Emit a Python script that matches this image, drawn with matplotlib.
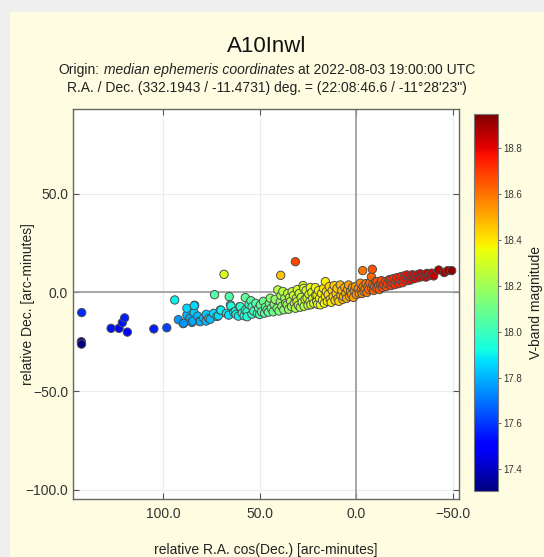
import matplotlib
matplotlib.use("Agg")
import matplotlib.pyplot as plt
from matplotlib.patches import Rectangle

plt.rcParams['font.family'] = ['Liberation Sans', 'DejaVu Sans']

# relative R.A. cos(Dec.) offsets [arc-minutes]
ra_off = [
    142.0, 142.2, 142.1, 126.8, 122.7, 121.0, 119.8, 118.4, 104.7, 98.0,
    93.9, 92.0, 89.5, 89.3, 87.6, 87.6, 86.0, 85.0, 84.5, 83.9,
    83.6, 83.8, 82.0, 81.0, 80.7, 79.0, 77.7, 77.6, 76.4, 75.5,
    73.8, 73.3, 72.0, 71.4, 70.3, 70.0, 68.4, 67.2, 66.0, 65.7,
    65.1, 64.8, 63.4, 62.6, 62.2, 61.0, 60.3, 60.0,
    59.0, 58.0, 57.4, 57.4, 56.5, 56.5, 55.5, 54.5, 54.0, 53.9,
    53.0, 52.0, 51.2, 50.5, 50.0, 49.6, 49.0, 48.0, 47.5, 47.0,
    46.2, 45.5, 45.0, 44.5, 44.0, 43.0, 42.5, 42.0, 41.0, 40.6,
    40.0, 39.3, 39.1, 39.0, 38.5, 38.0, 37.5, 37.0, 36.5, 35.8,
    35.5, 35.0, 34.5, 34.0, 33.5, 33.2, 32.5, 32.0, 31.5, 31.5,
    31.0, 30.7, 30.5, 30.0,
    29.5, 29.0, 28.5, 28.0, 27.5, 27.2, 27.0, 26.5, 26.0, 25.5,
    25.0, 24.5, 24.0, 23.8, 23.5, 23.0, 22.5, 22.0, 21.2, 21.0,
    20.5, 20.3, 20.0, 19.5, 19.0, 18.6, 18.0, 17.5, 17.0, 16.5,
    16.0, 16.0, 15.5, 15.0, 14.5, 14.0, 13.5, 13.0, 12.5, 12.0,
    11.5, 11.0, 10.5, 10.0, 9.5, 9.0, 8.3, 8.0, 7.5, 7.0,
    6.6, 6.0, 5.5, 5.0, 4.5, 4.0, 3.5, 3.0, 2.5, 2.0,
    1.5, 1.0, 0.5, 0.0,
    -1.0, -1.5, -2.1, -2.5, -3.0, -3.3, -3.5, -4.0, -4.5, -5.0,
    -5.5, -6.0, -6.5, -7.0, -7.8, -8.0, -8.3, -8.5, -9.0, -9.5,
    -10.0, -10.7, -10.7, -11.5, -12.0, -12.5, -13.0, -13.5, -14.0, -15.0,
    -15.5, -16.0, -17.0, -17.6, -18.0, -18.5, -19.0, -20.0, -20.5, -21.0,
    -22.0, -22.5, -23.0, -24.0, -24.5, -25.0, -26.2, -26.5, -27.0, -27.9,
    -28.5, -29.0, -30.0, -30.5, -31.4, -32.0, -33.0, -34.0, -35.0, -36.0,
    -36.6, -37.5, -38.3, -39.0, -40.0, -42.6, -45.5, -47.3, -49.3,
]

# relative Dec. offsets [arc-minutes]
dec_off = [
    -10.2, -25.0, -26.2, -18.2, -18.2, -15.3, -12.9, -20.1, -18.5, -17.9,
    -3.8, -13.8, -15.8, -15.6, -11.4, -8.0, -13.0, -15.2, -14.5, -10.2,
    -6.5, -6.7, -12.0, -14.6, -14.8, -13.0, -14.5, -11.1, -13.1, -13.6,
    -10.6, -1.1, -12.2, -11.8, -8.9, -9.0, 9.2, -10.6, -11.5, -2.1,
    -6.3, -6.9, -10.0, -9.7, -11.1, -12.0, -7.2, -7.2,
    -10.5, -11.8, -2.6, -9.0, -9.7, -12.3, -6.0, -4.2, -11.0, -7.2,
    -9.5, -5.5, -10.6, -8.0, -11.2, -6.3, -9.8, -4.5, -10.5, -7.5,
    -8.9, -10.0, -5.5, -2.9, -8.0, -9.8, -6.0, -3.5, -8.0, 1.3,
    -9.4, -4.7, 8.7, -1.5, -7.0, 0.5, -8.8, -3.0, -5.5, -6.3,
    -0.5, -8.5, -2.5, -4.5, -7.2, 0.4, -1.5, -5.5, 15.6, -8.0,
    -3.0, -4.7, 1.5, -6.5,
    -0.5, -7.5, -2.5, -5.0, 3.5, 2.1, -7.0, -3.5, 1.0, -2.9,
    -6.5, -1.0, -4.5, 2.5, -6.2, 0.0, -3.0, -5.5, 2.5, -1.5,
    -4.5, -1.3, -6.0, 1.0, -3.0, -6.3, -0.5, -4.0, 2.0, -5.5,
    5.5, -2.0, 0.5, -4.5, -1.0, 3.0, -3.5, -5.0, 1.0, -2.0,
    3.5, -4.0, -0.5, 2.0, -3.0, -4.5, 3.8, -1.5, 1.0, -3.5,
    -2.1, 2.5, -0.5, -3.0, 1.5, 3.8, -2.0, 0.5, -1.0, 2.5,
    -2.5, 1.0, 3.0, -1.0,
    2.0, -0.5, 4.7, 1.0, -0.5, 11.1, 3.0, 0.5, 2.0, 4.5,
    0.0, 3.0, 1.5, 5.0, 8.0, 2.0, 11.8, 4.0, 1.0, 3.0,
    5.5, 2.1, 5.5, 3.5, 1.5, 4.5, 6.0, 2.5, 4.0, 5.5,
    3.0, 4.5, 6.5, 6.3, 3.5, 5.0, 7.0, 4.0, 6.0, 7.5,
    4.5, 6.5, 8.0, 5.0, 7.0, 8.5, 8.9, 6.0, 7.5, 6.3,
    8.0, 9.0, 7.0, 8.5, 8.9, 7.5, 9.5, 8.0, 9.0, 7.8,
    9.7, 8.5, 8.9, 9.8, 8.4, 11.4, 10.1, 11.1, 11.1,
]

# V-band magnitude
vmag = [
    17.58, 17.32, 17.31, 17.54, 17.52, 17.54, 17.56, 17.50, 17.56, 17.62,
    17.90, 17.76, 17.74, 17.76, 17.80, 17.86, 17.78, 17.76, 17.79, 17.84,
    17.88, 17.86, 17.81, 17.79, 17.80, 17.82, 17.81, 17.84, 17.83, 17.82,
    17.86, 18.05, 17.85, 17.87, 17.89, 17.90, 18.32, 17.88, 17.87, 18.04,
    17.93, 17.93, 17.91, 17.93, 17.91, 17.90, 17.96, 17.97,
    17.95, 17.93, 18.07, 17.97, 17.98, 17.95, 18.00, 18.05, 17.98, 18.01,
    18.00, 18.04, 18.01, 18.04, 18.02, 18.06, 18.04, 18.09, 18.05, 18.07,
    18.08, 18.07, 18.11, 18.16, 18.11, 18.10, 18.13, 18.17, 18.14, 18.24,
    18.13, 18.17, 18.46, 18.21, 18.17, 18.25, 18.15, 18.21, 18.19, 18.20,
    18.25, 18.18, 18.25, 18.23, 18.21, 18.28, 18.27, 18.25, 18.68, 18.23,
    18.28, 18.27, 18.31, 18.27,
    18.27, 18.22, 18.26, 18.25, 18.32, 18.30, 18.24, 18.28, 18.31, 18.29,
    18.27, 18.31, 18.30, 18.34, 18.29, 18.33, 18.32, 18.31, 18.36, 18.34,
    18.33, 18.35, 18.32, 18.37, 18.36, 18.34, 18.38, 18.37, 18.40, 18.36,
    18.38, 18.39, 18.41, 18.39, 18.42, 18.43, 18.41, 18.40, 18.44, 18.43,
    18.45, 18.43, 18.45, 18.46, 18.45, 18.44, 18.48, 18.47, 18.48, 18.47,
    18.48, 18.50, 18.50, 18.49, 18.51, 18.52, 18.51, 18.52, 18.52, 18.54,
    18.52, 18.54, 18.55, 18.54,
    18.56, 18.55, 18.57, 18.57, 18.57, 18.60, 18.58, 18.58, 18.59, 18.60,
    18.59, 18.60, 18.61, 18.62, 18.62, 18.62, 18.66, 18.63, 18.63, 18.64,
    18.65, 18.64, 18.65, 18.66, 18.65, 18.67, 18.68, 18.67, 18.68, 18.69,
    18.68, 18.70, 18.71, 18.71, 18.70, 18.72, 18.72, 18.72, 18.73, 18.74,
    18.74, 18.75, 18.75, 18.75, 18.76, 18.77, 18.78, 18.77, 18.78, 18.78,
    18.79, 18.80, 18.80, 18.81, 18.81, 18.81, 18.82, 18.82, 18.83, 18.83,
    18.84, 18.84, 18.85, 18.85, 18.86, 18.88, 18.90, 18.91, 18.93,
]

mag_min, mag_max = 17.305, 18.95
x_ticks = [100.0, 50.0, 0.0, -50.0]
y_ticks = [50.0, 0.0, -50.0, -100.0]
cbar_ticks = [17.4, 17.6, 17.8, 18.0, 18.2, 18.4, 18.6, 18.8]


def fmt1(v, pos=None):
    return f'{v:.1f}'.replace('-', '\u2212')


W, H = 544, 557
fig = plt.figure(figsize=(W / 100, H / 100), dpi=100, facecolor='#efefef')
fig.patches.append(Rectangle((10 / W, 0), 1, 1 - 12 / H, transform=fig.transFigure,
                             facecolor='#fffde1', edgecolor='none', zorder=-10))

ax = fig.add_axes([73 / W, 1 - 499 / H, 386 / W, 390 / H])
ax.set_facecolor('white')

ax.axhline(0, color='#9a9a9a', lw=1.2, zorder=1)
ax.axvline(0, color='#9a9a9a', lw=1.2, zorder=1)
ax.grid(True, color='#ececec', lw=0.8, zorder=0)
ax.set_axisbelow(True)

sc = ax.scatter(ra_off, dec_off, c=vmag, cmap='jet', vmin=mag_min, vmax=mag_max,
                s=36, edgecolors='#4d4d4d', linewidths=0.7, zorder=3)

ax.set_xlim(146.5, -53.1)
ax.set_ylim(-104.8, 93.1)
ax.set_xticks(x_ticks)
ax.set_yticks(y_ticks)
ax.xaxis.set_major_formatter(plt.FuncFormatter(fmt1))
ax.yaxis.set_major_formatter(plt.FuncFormatter(fmt1))
ax.tick_params(direction='in', top=True, right=True, length=4, width=0.8,
               color='#555555', labelsize=10, labelcolor='#333333')
ax.tick_params(axis='x', pad=6)
for sp in ax.spines.values():
    sp.set_color('#666666')
    sp.set_linewidth(1.0)

ax.set_xlabel('relative R.A. cos(Dec.) [arc-minutes]', fontsize=10, color='#222222')
ax.set_ylabel('relative Dec. [arc-minutes]', fontsize=10, color='#222222')
ax.xaxis.set_label_coords(0.5, -0.112)
ax.yaxis.set_label_coords(-0.098, 0.5)

cax = fig.add_axes([474 / W, 1 - 491 / H, 24 / W, 377 / H])
cb = fig.colorbar(sc, cax=cax)
cb.set_ticks(cbar_ticks)
cb.ax.yaxis.set_major_formatter(plt.FuncFormatter(fmt1))
cb.ax.tick_params(labelsize=7, length=2.5, width=0.6, color='#555555', pad=1,
                  labelcolor='#333333')
cb.outline.set_edgecolor('#777777')
cb.outline.set_linewidth(0.8)
cb.set_label('V-band magnitude', fontsize=10, color='#222222', labelpad=5)

# title block
cx = 267 / W
fig.text(cx, 1 - 46 / H, 'A10Inwl', fontsize=16, ha='center', va='center', color='#111111')

fig.canvas.draw()
rend = fig.canvas.get_renderer()


def centered_runs(y_px, runs, size):
    texts = [fig.text(0, 1 - y_px / H, s, fontsize=size, style=st, va='center',
                      color='#222222') for s, st in runs]
    gap = size * 0.278 * fig.dpi / 72
    widths = [t.get_window_extent(rend).width for t in texts]
    total = sum(widths) + gap * (len(texts) - 1)
    x0 = cx * W - total / 2
    for t, w in zip(texts, widths):
        t.set_x(x0 / W)
        x0 += w + gap


centered_runs(70, [('Origin:', 'normal'), ('median ephemeris coordinates', 'italic'),
                   ('at 2022-08-03 19:00:00 UTC', 'normal')], 10)
centered_runs(88, [('R.A. / Dec. (332.1943 / -11.4731) deg. = (22:08:46.6 / -11\u00b028\'23")',
                    'normal')], 10)

fig.savefig('out.png', dpi=100, facecolor=fig.get_facecolor())
